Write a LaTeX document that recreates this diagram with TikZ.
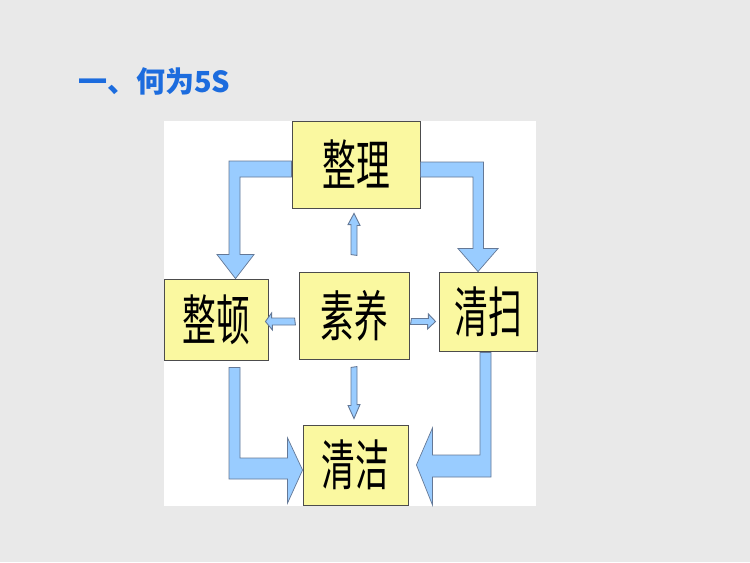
\documentclass[tikz,border=0pt]{standalone}
\usepackage{fontspec}
\newfontfamily\cjk{Noto Sans CJK SC}
\usetikzlibrary{calc}
\definecolor{pagegray}{RGB}{233,233,233}
\definecolor{titleblue}{RGB}{28,108,222}
\definecolor{boxyellow}{RGB}{250,248,160}
\definecolor{arrowblue}{RGB}{153,204,255}
\definecolor{arrowedge}{RGB}{100,120,150}
\newcommand\boxtext[1]{\scalebox{0.62}[1]{#1}}
\tikzset{
	box/.style={draw=black!70, fill=boxyellow, line width=0.5pt, inner sep=0pt, font=\cjk\fontsize{31}{31}\selectfont},
	bigarrow/.style={fill=arrowblue, draw=arrowedge, line width=0.4pt, line join=miter},
	smallarrow/.style={fill=arrowblue, draw=arrowedge, line width=0.5pt}
}

\begin{document}
\begin{tikzpicture}[x=0.02cm, y=-0.02cm]
			%%%%% START %%%%%
			
			\fill[pagegray] (0,0) rectangle (750,562);
			\useasboundingbox (0,0) rectangle (750,562);
			\fill[white] (164,121) rectangle (536,506);
			
			\node[anchor=west, inner sep=0pt, text=titleblue, font=\cjk\bfseries\fontsize{16.5}{16.5}\selectfont] (title) at (78,81) {一、何为5S};
			
			\node[box, minimum width=2.56cm, minimum height=1.74cm] (zl) at (356,164.5) {\boxtext{整理}};
			\node[box, minimum width=2.08cm, minimum height=1.62cm] (zd) at (216,319.5) {\boxtext{整顿}};
			\node[box, minimum width=2.2cm, minimum height=1.74cm] (sy) at (354,315.5) {\boxtext{素养}};
			\node[box, minimum width=1.96cm, minimum height=1.58cm] (qs) at (488,311.5) {\boxtext{清扫}};
			\node[box, minimum width=2.1cm, minimum height=1.6cm] (qj) at (355.5,465) {\boxtext{清洁}};
			
			% big bent arrows round the ring
			\draw[bigarrow] ($(zl.west)+(0,-3.5)$) -| ($(zd.north)+(13,-24)$) -- ++(-12,0) -- ($(zd.north)+(19.5,0)$) -- ++(18.5,-24) -- ++(-14,0) |- ($(zl.west)+(0,12.5)$) -- cycle;
			\draw[bigarrow] ($(zl.east)+(0,-2.5)$) -| ($(qs.north)+(-4.5,-23)$) -- ++(14.5,0) -- ($(qs.north)+(-10,0)$) -- ++(-20,-23) -- ++(15,0) |- ($(zl.east)+(0,12.5)$) -- cycle;
			\draw[bigarrow] ($(zd.south)+(13,7)$) |- ($(qj.west)+(-15,14)$) -- ++(0,24) -- ($(qj.west)+(0,5)$) -- ++(-15,-32) -- ++(0,20) -| ($(zd.south)+(24,7)$) -- cycle;
			\draw[bigarrow] ($(qs.south)+(3,1)$) |- ($(qj.east)+(24,12)$) -- ++(0,28) -- ($(qj.east)+(8,0)$) -- ++(16,-37) -- ++(0,27) -| ($(qs.south)+(-8,1)$) -- cycle;
			
			% small arrows out of sy
			\draw[smallarrow] ($(sy.north)+(-3,-17)$) -- ++(0,-30) -- ++(-3,0) -- ($(sy.north |- zl.south)+(0,5)$) -- ++(6,12) -- ++(-3,0) -- ++(0,30) -- cycle;
			\draw[smallarrow] ($(sy.south)+(-3,8)$) -- ++(0,38) -- ++(-3,0) -- ($(sy.south |- qj.north)+(0,-6)$) -- ++(6,-14) -- ++(-3,0) -- ++(0,-38) -- cycle;
			\draw[smallarrow] ($(sy.west)+(-4,2.5)$) -- ++(-23,0) -- ++(0,-5) -- ($(zd.east)+(-3,2)$) -- ++(7,8.5) -- ++(0,-5) -- ++(23,0) -- cycle;
			\draw[smallarrow] ($(sy.east)+(2,3)$) -- ++(17,0) -- ++(0,-4.5) -- ($(qs.west)+(-3,10)$) -- ++(-8,7.5) -- ++(0,-4.5) -- ++(-17,0) -- cycle;
			
			%%%%% END %%%%%
\end{tikzpicture}
\end{document}
